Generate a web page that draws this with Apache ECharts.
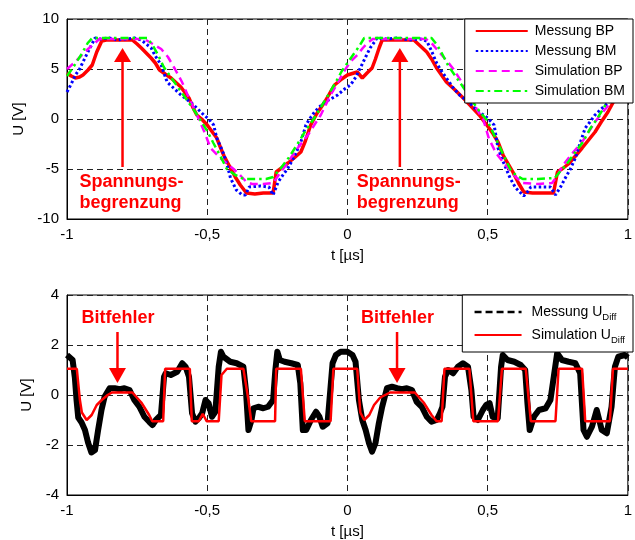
<!DOCTYPE html>
<html>
<head>
<meta charset="utf-8">
<script src="https://cdn.jsdelivr.net/npm/echarts@6/dist/echarts.min.js"></script>
<style>
html,body{margin:0;padding:0;background:#fff;}
#chart{width:635px;height:540px;}
</style>
</head>
<body>
<div id="chart"></div>
<script>
// ---------- data (t in µs, U in V) ----------
const xTickValues = [-1, -0.5, 0, 0.5, 1];
const xTickLabels = ['-1', '-0,5', '0', '0,5', '1'];
const topLegendNames = ['Messung BP', 'Messung BM', 'Simulation BP', 'Simulation BM'];
const bottomLegendNames = ['Messung UDiff', 'Simulation UDiff'];

const messungBP = [[-1,4.6],[-0.985,4.3],[-0.97,4.1],[-0.955,4.2],[-0.943,4.4],[-0.925,4.9],[-0.91,5.4],[-0.894,6.7],[-0.876,7.8],[-0.86,7.9],[-0.83,7.9],[-0.80,7.9],[-0.767,7.9],[-0.75,7.5],[-0.735,7.1],[-0.70,6.1],[-0.685,5.6],[-0.67,4.9],[-0.65,4.5],[-0.629,4.1],[-0.594,3.2],[-0.565,2.1],[-0.55,1.1],[-0.537,0.4],[-0.52,0.0],[-0.50,-0.6],[-0.466,-1.9],[-0.452,-2.9],[-0.44,-3.7],[-0.417,-4.9],[-0.40,-5.8],[-0.382,-6.6],[-0.36,-7.4],[-0.33,-7.5],[-0.30,-7.4],[-0.265,-7.4],[-0.254,-5.3],[-0.235,-4.9],[-0.212,-4.4],[-0.19,-3.9],[-0.166,-3.3],[-0.15,-2.2],[-0.131,-0.6],[-0.11,0.5],[-0.081,1.7],[-0.046,3.4],[-0.02,4.0],[0.0,4.4],[0.035,4.7],[0.053,4.1],[0.07,4.6],[0.088,5.1],[0.10,6.0],[0.113,7.1],[0.124,7.9],[0.16,7.9],[0.20,7.9],[0.237,7.9],[0.26,7.3],[0.283,6.7],[0.30,6.0],[0.318,5.1],[0.353,3.7],[0.38,3.0],[0.413,2.1],[0.44,1.3],[0.47,0.4],[0.505,-0.9],[0.52,-1.5],[0.537,-2.3],[0.555,-3.6],[0.59,-5.3],[0.61,-6.4],[0.629,-7.3],[0.66,-7.4],[0.70,-7.4],[0.735,-7.4],[0.749,-5.3],[0.77,-4.9],[0.788,-4.5],[0.81,-3.8],[0.837,-2.9],[0.86,-2.1],[0.883,-1.3],[0.905,-0.3],[0.929,0.7],[0.96,2.3],[1.0,4.3]];

const messungBM = [[-1,2.7],[-0.985,3.5],[-0.97,4.4],[-0.955,5.0],[-0.936,6.1],[-0.92,7.0],[-0.90,8.1],[-0.88,8.0],[-0.85,8.1],[-0.82,7.9],[-0.79,8.0],[-0.76,8.1],[-0.735,7.9],[-0.70,7.1],[-0.685,6.3],[-0.664,5.4],[-0.643,3.7],[-0.62,3.1],[-0.594,2.4],[-0.57,1.9],[-0.548,1.4],[-0.53,0.9],[-0.512,0.4],[-0.495,0.0],[-0.477,-0.6],[-0.466,-1.9],[-0.453,-2.7],[-0.44,-3.6],[-0.427,-4.8],[-0.417,-5.9],[-0.396,-7.1],[-0.375,-7.6],[-0.364,-7.6],[-0.35,-6.8],[-0.31,-6.7],[-0.28,-6.8],[-0.265,-7.6],[-0.247,-6.3],[-0.23,-5.6],[-0.212,-4.9],[-0.19,-3.8],[-0.166,-2.3],[-0.148,-0.6],[-0.13,0.2],[-0.117,0.7],[-0.1,1.2],[-0.081,1.7],[-0.06,2.0],[-0.035,2.4],[-0.01,3.0],[0.011,3.4],[0.03,4.2],[0.046,5.1],[0.065,6.2],[0.081,7.1],[0.106,8.1],[0.14,8.0],[0.18,8.1],[0.22,7.9],[0.26,8.0],[0.283,7.8],[0.30,6.8],[0.318,5.6],[0.335,4.8],[0.353,4.1],[0.375,3.2],[0.40,2.4],[0.435,1.6],[0.47,0.7],[0.50,0.1],[0.523,-0.6],[0.537,-2.9],[0.55,-3.9],[0.565,-4.9],[0.58,-5.9],[0.60,-6.9],[0.629,-7.7],[0.645,-7.2],[0.654,-6.8],[0.69,-6.8],[0.724,-6.8],[0.742,-7.6],[0.76,-6.8],[0.777,-5.9],[0.795,-5.0],[0.813,-3.9],[0.83,-2.4],[0.848,-0.9],[0.865,-0.3],[0.883,0.4],[0.905,1.0],[0.929,1.6],[0.96,2.2],[1.0,2.9]];

const simulationBP = [[-1,5.0],[-0.975,5.6],[-0.95,6.3],[-0.925,7.0],[-0.90,7.6],[-0.885,8.0],[-0.85,8.0],[-0.80,8.0],[-0.75,8.0],[-0.725,8.0],[-0.70,7.6],[-0.664,7.0],[-0.64,6.2],[-0.615,5.0],[-0.59,3.7],[-0.565,2.1],[-0.545,0.9],[-0.53,0.0],[-0.51,-1.3],[-0.488,-2.9],[-0.45,-4.0],[-0.406,-5.0],[-0.38,-5.7],[-0.36,-6.3],[-0.34,-6.5],[-0.30,-6.5],[-0.265,-6.4],[-0.24,-5.4],[-0.212,-4.3],[-0.177,-2.9],[-0.141,-1.6],[-0.095,0.4],[-0.06,2.4],[-0.035,3.6],[-0.011,4.8],[0.01,5.7],[0.035,6.4],[0.055,7.1],[0.071,7.6],[0.09,8.0],[0.15,8.0],[0.20,8.0],[0.25,8.0],[0.28,8.0],[0.30,7.6],[0.33,6.6],[0.355,5.8],[0.378,5.0],[0.41,3.6],[0.44,2.1],[0.465,0.8],[0.484,0.0],[0.505,-2.0],[0.53,-3.4],[0.555,-4.3],[0.576,-5.0],[0.60,-5.8],[0.625,-6.4],[0.68,-6.5],[0.73,-6.4],[0.75,-5.6],[0.767,-4.7],[0.80,-3.5],[0.837,-2.3],[0.86,-1.3],[0.883,-0.3],[0.905,0.5],[0.929,1.3],[0.96,3.0],[1.0,4.9]];

const simulationBM = [[-1,4.3],[-0.975,5.3],[-0.95,6.4],[-0.926,7.6],[-0.91,8.1],[-0.88,8.1],[-0.84,8.1],[-0.80,8.1],[-0.76,8.1],[-0.714,8.1],[-0.695,7.4],[-0.675,6.4],[-0.655,5.2],[-0.63,4.2],[-0.60,3.0],[-0.57,1.8],[-0.545,0.8],[-0.52,-0.3],[-0.50,-1.2],[-0.478,-2.4],[-0.455,-3.6],[-0.43,-5.0],[-0.40,-5.6],[-0.37,-6.0],[-0.33,-6.0],[-0.29,-6.0],[-0.265,-5.8],[-0.24,-5.0],[-0.21,-3.9],[-0.18,-2.6],[-0.15,-1.2],[-0.12,0.0],[-0.09,1.4],[-0.06,2.8],[-0.035,4.0],[-0.02,4.8],[0.0,5.6],[0.02,6.4],[0.04,7.2],[0.06,8.1],[0.12,8.1],[0.18,8.1],[0.24,8.1],[0.30,8.1],[0.32,7.4],[0.34,6.4],[0.36,5.3],[0.385,4.3],[0.41,3.3],[0.44,2.0],[0.47,0.8],[0.50,-0.2],[0.52,-1.4],[0.54,-2.6],[0.56,-3.8],[0.58,-5.0],[0.60,-5.6],[0.625,-6.0],[0.68,-6.0],[0.74,-5.9],[0.76,-5.2],[0.78,-4.6],[0.81,-3.4],[0.84,-2.3],[0.865,-1.0],[0.89,0.0],[0.92,1.4],[0.95,2.6],[0.975,3.5],[1.0,4.4]];

const messungUDiff = [[-1,1.6],[-0.99,1.5],[-0.98,1.4],[-0.972,0.7],[-0.966,-0.2],[-0.96,-0.9],[-0.948,-1.1],[-0.936,-1.4],[-0.925,-1.9],[-0.913,-2.3],[-0.90,-2.2],[-0.889,-1.4],[-0.877,-0.6],[-0.866,-0.07],[-0.848,0.27],[-0.83,0.27],[-0.812,0.23],[-0.795,0.27],[-0.777,0.2],[-0.76,-0.2],[-0.742,-0.47],[-0.724,-0.87],[-0.707,-1.07],[-0.695,-1.2],[-0.683,-1.0],[-0.665,-0.8],[-0.654,0.73],[-0.648,0.87],[-0.63,0.8],[-0.607,0.93],[-0.589,1.27],[-0.577,1.13],[-0.565,0.73],[-0.554,-0.73],[-0.542,-1.07],[-0.53,-0.93],[-0.518,-0.73],[-0.506,-0.2],[-0.495,-0.33],[-0.483,-0.87],[-0.471,-0.67],[-0.459,1.13],[-0.451,1.73],[-0.442,1.53],[-0.418,1.33],[-0.395,1.27],[-0.371,1.13],[-0.362,0.2],[-0.353,-1.4],[-0.342,-1.0],[-0.335,-0.53],[-0.318,-0.47],[-0.30,-0.53],[-0.283,-0.47],[-0.265,-0.2],[-0.257,1.0],[-0.25,1.73],[-0.241,1.4],[-0.224,1.33],[-0.20,1.27],[-0.177,1.2],[-0.168,0.47],[-0.159,-1.4],[-0.147,-1.4],[-0.13,-1.0],[-0.112,-0.67],[-0.10,-0.87],[-0.088,-1.27],[-0.071,-1.13],[-0.061,0.2],[-0.053,1.27],[-0.041,1.6],[-0.024,1.73],[0.0,1.73],[0.018,1.6],[0.029,1.33],[0.041,-0.2],[0.053,-1.0],[0.065,-1.4],[0.077,-1.93],[0.088,-2.27],[0.10,-1.93],[0.112,-1.13],[0.124,-0.47],[0.141,0.27],[0.159,0.33],[0.177,0.27],[0.194,0.23],[0.212,0.27],[0.23,0.2],[0.247,-0.27],[0.265,-0.47],[0.283,-0.87],[0.30,-1.07],[0.318,-1.0],[0.33,-0.73],[0.339,-0.47],[0.348,0.73],[0.359,1.0],[0.377,0.87],[0.394,1.13],[0.412,1.27],[0.43,1.13],[0.442,0.2],[0.45,-0.87],[0.465,-1.0],[0.483,-0.6],[0.495,-0.4],[0.507,-0.33],[0.518,-0.87],[0.536,-0.93],[0.548,1.13],[0.554,1.6],[0.571,1.4],[0.595,1.33],[0.618,1.2],[0.634,1.0],[0.642,-0.33],[0.65,-1.4],[0.665,-0.87],[0.683,-0.6],[0.707,-0.53],[0.724,-0.2],[0.736,0.73],[0.748,1.67],[0.765,1.4],[0.789,1.33],[0.813,1.27],[0.83,0.87],[0.842,-1.4],[0.854,-1.67],[0.872,-1.27],[0.889,-0.6],[0.907,-1.4],[0.925,-1.53],[0.942,-0.47],[0.954,1.13],[0.966,1.53],[0.989,1.6],[1.0,1.5]];

const simulationUDiff = [[-1,1.05],[-0.965,1.05],[-0.954,-0.2],[-0.947,-0.7],[-0.93,-1.0],[-0.912,-0.8],[-0.894,-0.4],[-0.876,-0.2],[-0.855,0.0],[-0.84,0.1],[-0.767,0.1],[-0.735,-0.3],[-0.707,-0.8],[-0.696,-1.05],[-0.657,-1.05],[-0.65,1.05],[-0.562,1.05],[-0.555,-1.05],[-0.53,-1.05],[-0.516,-0.75],[-0.502,-1.05],[-0.459,-1.05],[-0.449,0.8],[-0.43,1.05],[-0.371,1.05],[-0.353,-0.2],[-0.343,-1.05],[-0.258,-1.05],[-0.254,1.05],[-0.166,1.05],[-0.152,-1.05],[-0.06,-1.05],[-0.05,1.05],[0.035,1.05],[0.046,-0.7],[0.06,-1.0],[0.078,-0.8],[0.095,-0.4],[0.117,-0.1],[0.152,0.1],[0.24,0.1],[0.272,-0.3],[0.30,-0.8],[0.318,-1.05],[0.336,-1.05],[0.346,1.05],[0.435,1.05],[0.449,-1.05],[0.537,-1.05],[0.551,1.05],[0.636,1.05],[0.654,-1.05],[0.742,-1.05],[0.753,1.05],[0.837,1.05],[0.848,-1.05],[0.936,-1.05],[0.947,1.05],[1.0,1.05]];

// annotation anchor positions (t, µs)
const annotTopT = [-0.802, 0.187];
const annotBottomT = [-0.82, 0.177];

// ---------- chart ----------
const FONT = '"Liberation Sans", Arial, Helvetica, sans-serif';
const chart = echarts.init(document.getElementById('chart'), null, {renderer: 'canvas'});

function xAxisCfg(gi) {
  return {
    gridIndex: gi, type: 'value', min: -1, max: 1, interval: 0.5,
    axisLine: {show: true, onZero: false, lineStyle: {color: '#000', width: 1}},
    axisTick: {show: false},
    axisLabel: {
      fontSize: 15, color: '#000', fontFamily: FONT, margin: 8,
      formatter: v => { const i = xTickValues.findIndex(x => Math.abs(x - v) < 1e-9); return i >= 0 ? xTickLabels[i] : ''; }
    },
    splitLine: {show: true, lineStyle: {color: '#222', type: [6, 4], width: 1}},
    name: 't [µs]', nameLocation: 'middle', nameGap: 29,
    nameTextStyle: {fontSize: 15, color: '#000', fontFamily: FONT}
  };
}
function yAxisCfg(gi, mn, mx, iv) {
  return {
    gridIndex: gi, type: 'value', min: mn, max: mx, interval: iv,
    axisLine: {show: true, onZero: false, lineStyle: {color: '#000', width: 1}},
    axisTick: {show: false},
    axisLabel: {fontSize: 15, color: '#000', fontFamily: FONT, margin: 8},
    splitLine: {show: true, lineStyle: {color: '#222', type: [6, 4], width: 1}},
    name: 'U [V]', nameLocation: 'middle', nameGap: 31, nameRotate: 90,
    nameTextStyle: {fontSize: 15, color: '#000', fontFamily: FONT}
  };
}

const option = {
  animation: false,
  backgroundColor: '#fff',
  grid: [
    {left: 67, top: 19, width: 566, height: 200, show: true, borderColor: '#000', borderWidth: 1, backgroundColor: 'transparent'},
    {left: 67, top: 295, width: 566, height: 201, show: true, borderColor: '#000', borderWidth: 1, backgroundColor: 'transparent'}
  ],
  xAxis: [xAxisCfg(0), xAxisCfg(1)],
  yAxis: [yAxisCfg(0, -10, 10, 5), yAxisCfg(1, -4, 4, 2)],
  legend: [
    {
      data: topLegendNames, orient: 'vertical', right: 2, top: 19, z: 20,
      itemWidth: 52, itemHeight: 14, itemGap: 6,
      padding: [5, 8, 5, 10], borderColor: '#000', borderWidth: 1, borderRadius: 0,
      backgroundColor: '#fff', selectedMode: false,
      itemStyle: {opacity: 0},
      textStyle: {fontSize: 14, color: '#000', fontFamily: FONT, padding: [0, 0, 0, 2]}
    },
    {
      data: [
        {name: bottomLegendNames[0], lineStyle: {type: [7, 4], width: 2.5, color: '#000'}},
        {name: bottomLegendNames[1]}
      ],
      orient: 'vertical', right: 2, top: 295, z: 20,
      itemWidth: 47, itemHeight: 14, itemGap: 3,
      padding: [7, 8, 7, 11], borderColor: '#000', borderWidth: 1, borderRadius: 0,
      backgroundColor: '#fff', selectedMode: false,
      itemStyle: {opacity: 0},
      formatter: n => n === bottomLegendNames[0] ? 'Messung U{sub|Diff}' : 'Simulation U{sub|Diff}',
      textStyle: {
        fontSize: 14, color: '#000', fontFamily: FONT, lineHeight: 20, padding: [0, 0, 0, 5],
        rich: {sub: {fontSize: 9.5, fontFamily: FONT, color: '#000', verticalAlign: 'bottom', lineHeight: 20}}
      }
    }
  ],
  series: [
    {name: topLegendNames[0], type: 'line', xAxisIndex: 0, yAxisIndex: 0, data: messungBP, symbol: 'none', z: 2,
      lineStyle: {color: '#ff0000', width: 3.5}, itemStyle: {color: '#ff0000'}},
    {name: topLegendNames[1], type: 'line', xAxisIndex: 0, yAxisIndex: 0, data: messungBM, symbol: 'none', z: 2,
      lineStyle: {color: '#0000ff', width: 3, type: [2.5, 2.5]}, itemStyle: {color: '#0000ff'}},
    {name: topLegendNames[2], type: 'line', xAxisIndex: 0, yAxisIndex: 0, data: simulationBP, symbol: 'none', z: 2,
      lineStyle: {color: '#ff00ff', width: 2.5, type: [8, 5]}, itemStyle: {color: '#ff00ff'}},
    {name: topLegendNames[3], type: 'line', xAxisIndex: 0, yAxisIndex: 0, data: simulationBM, symbol: 'none', z: 2,
      lineStyle: {color: '#00ff00', width: 2.5, type: [8, 4, 2.5, 4]}, itemStyle: {color: '#00ff00'}},
    {name: bottomLegendNames[0], type: 'line', xAxisIndex: 1, yAxisIndex: 1, data: messungUDiff, symbol: 'none', z: 2,
      lineStyle: {color: '#000', width: 6, join: 'round'}, itemStyle: {color: '#000'}},
    {name: bottomLegendNames[1], type: 'line', xAxisIndex: 1, yAxisIndex: 1, data: simulationUDiff, symbol: 'none', z: 3,
      lineStyle: {color: '#ff0000', width: 2.5}, itemStyle: {color: '#ff0000'}}
  ]
};
chart.setOption(option);

// ---------- annotations (arrows + labels) ----------
function arrow(gi, t, vTail, vBase, vTip) {
  const pTail = chart.convertToPixel({gridIndex: gi}, [t, vTail]);
  const pBase = chart.convertToPixel({gridIndex: gi}, [t, vBase]);
  const pTip = chart.convertToPixel({gridIndex: gi}, [t, vTip]);
  return [
    {type: 'line', shape: {x1: pTail[0], y1: pTail[1], x2: pBase[0], y2: pBase[1]}, style: {stroke: '#ff0000', lineWidth: 2.5}, z: 20},
    {type: 'polygon', shape: {points: [[pBase[0] - 8.5, pBase[1]], [pBase[0] + 8.5, pBase[1]], [pTip[0], pTip[1]]]}, style: {fill: '#ff0000'}, z: 20}
  ];
}
function label(x, y, text) {
  return {type: 'text', x: x, y: y, z: 21,
    style: {text: text, fill: '#ff0000', font: 'bold 18px ' + FONT, textAlign: 'left', textVerticalAlign: 'middle'}};
}
const g = [];
annotTopT.forEach(t => {
  g.push(...arrow(0, t, -4.8, 5.7, 7.1));
  const p = chart.convertToPixel({gridIndex: 0}, [t, 0]);
  g.push(label(p[0] - 43, 182, 'Spannungs-'));
  g.push(label(p[0] - 43, 203, 'begrenzung'));
});
annotBottomT.forEach(t => {
  g.push(...arrow(1, t, 2.52, 1.08, 0.48));
  const p = chart.convertToPixel({gridIndex: 1}, [t, 0]);
  g.push(label(p[0] - 36, 318, 'Bitfehler'));
});
chart.setOption({graphic: g});
</script>
</body>
</html>
